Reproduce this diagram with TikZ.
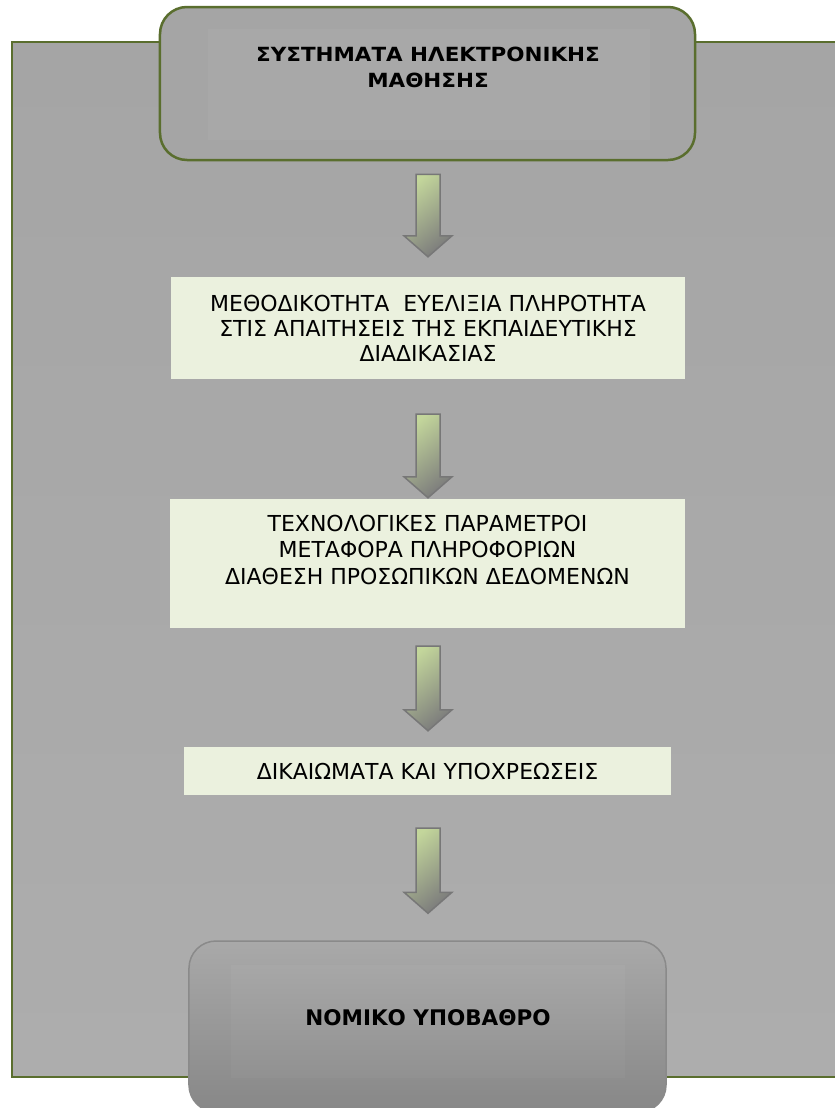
\documentclass[tikz,border=0pt]{standalone}
\usepackage{fontspec}
\setmainfont{DejaVu Sans}
\newfontfamily\headfont{DejaVu Sans}[FakeStretch=1.1]
\usetikzlibrary{calc}

\definecolor{frameolive}{HTML}{5A6E2E}
\definecolor{paneltop}{HTML}{A5A5A5}
\definecolor{panelbottom}{HTML}{ADADAD}
\definecolor{boxgreen}{HTML}{EBF1DE}
\definecolor{arrowgreen}{HTML}{C3D69B}
\definecolor{arrowgray}{HTML}{7C7C7C}
\definecolor{arrowedge}{HTML}{777777}
\definecolor{lawtop}{HTML}{A9A9A9}
\definecolor{lawbottom}{HTML}{878787}
\definecolor{lawedge}{HTML}{8A8A8A}

% block arrow from a top point (#1) down to a tip point (#2)
\newcommand\blockarrow[2]{%
  \path[blockarrow] ($#1+(-12,0)$) -- ($#1+(12,0)$) -- ($#2+(12,-21)$)
    -- ($#2+(24,-21)$) -- #2 -- ($#2+(-24,-21)$) -- ($#2+(-12,-21)$) -- cycle;}

\begin{document}
\begin{tikzpicture}[x=1bp,y=-1bp,
  titlebox/.style={draw=frameolive, line width=2.5bp, fill=paneltop,
    rounded corners=27bp, minimum width=535bp, minimum height=153bp, inner sep=0pt},
  stagebox/.style={fill=boxgreen, inner sep=0pt, align=center,
    font=\fontsize{22bp}{25bp}\selectfont},
  lawbox/.style={draw=lawedge, line width=1.5bp, top color=lawtop, bottom color=lawbottom,
    rounded corners=27bp, minimum width=477bp, minimum height=171bp, inner sep=0pt},
  titletext/.style={align=center, inner sep=0pt,
    font=\headfont\bfseries\fontsize{19.5bp}{26bp}\selectfont},
  stagetext/.style={align=center, inner sep=0pt,
    font=\fontsize{22bp}{26.5bp}\selectfont},
  lawtext/.style={inner sep=0pt, font=\bfseries\fontsize{21.5bp}{25bp}\selectfont},
  blockarrow/.style={draw=arrowedge, line width=1.5bp, line join=miter,
    top color=arrowgreen, bottom color=arrowgray, shading angle=40},
  glow/.style={fill=white, fill opacity=0.035, draw=none}]

\clip (0,0) rectangle (835,1108);
\fill[white] (0,0) rectangle (835,1108);

% grey panel framed in olive
\path[draw=frameolive, line width=2.8bp, top color=paneltop, bottom color=panelbottom]
  (12,42) rectangle (860,1077);

% top heading box
\node[titlebox] (sys) at (427.5,83.5) {};
\fill[glow] (208,29) rectangle (650,140);
\node[titletext] (systext) at (428,67) {ΣΥΣΤΗΜΑΤΑ ΗΛΕΚΤΡΟΝΙΚΗΣ\\ΜΑΘΗΣΗΣ};

% stage boxes
\node[stagebox, minimum width=514bp, minimum height=102bp] (method) at (428,328)
  {ΜΕΘΟΔΙΚΟΤΗΤΑ \ ΕΥΕΛΙΞΙΑ ΠΛΗΡΟΤΗΤΑ\\ΣΤΙΣ ΑΠΑΙΤΗΣΕΙΣ ΤΗΣ ΕΚΠΑΙΔΕΥΤΙΚΗΣ\\ΔΙΑΔΙΚΑΣΙΑΣ};

\node[stagebox, minimum width=515bp, minimum height=129bp] (tech) at (427.5,563.5) {};
\node[stagetext] (techtext) at (427.5,549.5)
  {ΤΕΧΝΟΛΟΓΙΚΕΣ ΠΑΡΑΜΕΤΡΟΙ\\ΜΕΤΑΦΟΡΑ ΠΛΗΡΟΦΟΡΙΩΝ\\ΔΙΑΘΕΣΗ ΠΡΟΣΩΠΙΚΩΝ ΔΕΔΟΜΕΝΩΝ};

\node[stagebox, minimum width=487bp, minimum height=48bp] (rights) at (427.5,771)
  {ΔΙΚΑΙΩΜΑΤΑ ΚΑΙ ΥΠΟΧΡΕΩΣΕΙΣ};

% bottom box
\node[lawbox] (law) at (427.5,1026.5) {};
\fill[glow] (231,965) rectangle (625,1078);
\node[lawtext] (lawtext) at (428,1018) {ΝΟΜΙΚΟ ΥΠΟΒΑΘΡΟ};

% block arrows between the boxes
\coordinate (a1s) at ($(sys.south)+(0.5,13)$);
\coordinate (a1e) at ($(method.north)+(0,-20)$);
\coordinate (a2s) at ($(method.south)+(0,35)$);
\coordinate (a2e) at ($(tech.north)+(0.5,-1)$);
\coordinate (a3s) at ($(tech.south)+(0.5,18)$);
\coordinate (a3e) at ($(rights.north)+(0.5,-16)$);
\coordinate (a4s) at ($(rights.south)+(0.5,33)$);
\coordinate (a4e) at ($(law.north)+(0.5,-27)$);
\blockarrow{(a1s)}{(a1e)}
\blockarrow{(a2s)}{(a2e)}
\blockarrow{(a3s)}{(a3e)}
\blockarrow{(a4s)}{(a4e)}
\end{tikzpicture}
\end{document}
